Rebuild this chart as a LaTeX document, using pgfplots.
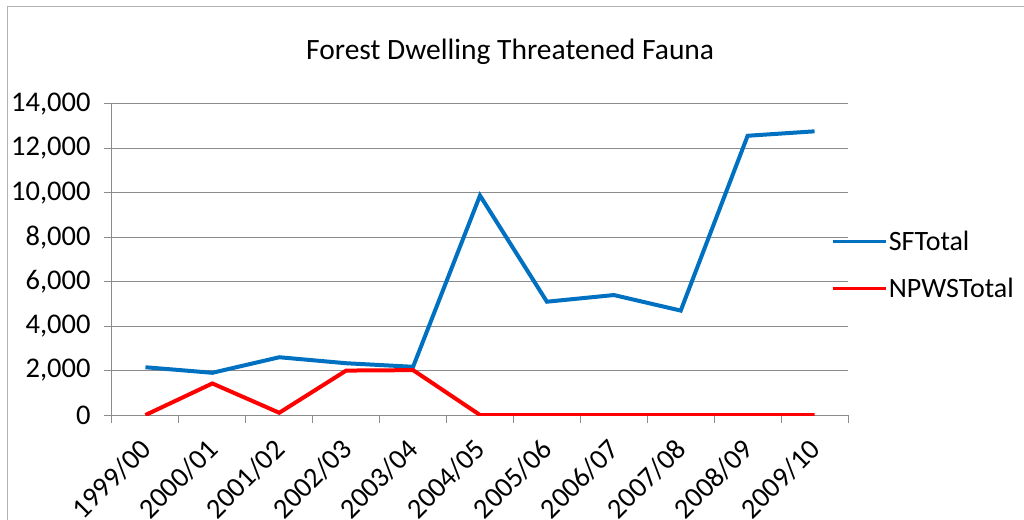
\documentclass[border=0pt]{standalone}
\usepackage{fontspec}
\setmainfont{Carlito}
\usepackage{pgfplots}
\pgfplotsset{compat=1.18}
\definecolor{sfblue}{HTML}{0070C0}
\definecolor{npred}{HTML}{FF0000}
\definecolor{gridgray}{HTML}{8C8C8C}
\begin{document}
\begin{tikzpicture}
\useasboundingbox (-112bp,-105bp) rectangle (912bp,415bp);
\draw[color=gray!60, line width=1bp] (-104bp,408bp) rectangle (940bp,-130bp);
\begin{axis}[
  at={(0,0)}, anchor=south west,
  scale only axis, width=736bp, height=311bp,
  xmin=-0.5, xmax=10.5, ymin=0, ymax=14000,
  axis lines*=left,
  axis line style={gridgray, line width=1bp},
  ytick={0,2000,...,14000},
  scaled y ticks=false,
  ymajorgrids, grid style={gridgray, line width=1bp},
  xtick={-0.5,0.5,...,10.5}, xticklabels={},
  extra x ticks={0,1,2,3,4,5,6,7,8,9,10},
  extra x tick labels={1999/00,2000/01,2001/02,2002/03,2003/04,2004/05,2005/06,2006/07,2007/08,2008/09,2009/10},
  extra x tick style={major tick length=0pt, grid=none},
  tick align=outside, major tick length=8bp,
  tick style={gridgray, line width=1bp},
  /pgf/number format/assume math mode=true,
  /pgf/number format/1000 sep={,},
  yticklabel style={font=\fontsize{28.5bp}{32bp}\selectfont, text=black, xshift=-10bp},
  xticklabel style={font=\fontsize{28.5bp}{32bp}\selectfont, text=black, yshift=-27bp, xshift=3bp, rotate=45, anchor=east},
  title={Forest Dwelling Threatened Fauna},
  title style={at={(0.541,1.15)}, anchor=center, font=\fontsize{29.5bp}{34bp}\selectfont},
  legend style={at={(0.977,0.482)}, anchor=west, draw=none, fill=none,
    font=\fontsize{28bp}{32bp}\selectfont, row sep=22bp, inner sep=0pt},
  legend cell align=left,
  legend image code/.code={\draw[#1, line width=2.6bp] (0bp,0bp) -- (53bp,0bp);},
]
\addplot[sfblue, line width=4bp] coordinates {
(0,2150) (1,1900) (2,2600) (3,2330) (4,2170) (5,9880) (6,5100) (7,5400) (8,4700) (9,12570) (10,12770)};
\addlegendentry{SFTotal}
\addplot[npred, line width=4bp] coordinates {
(0,0) (1,1420) (2,100) (3,2000) (4,2020) (5,0) (6,0) (7,0) (8,0) (9,0) (10,0)};
\addlegendentry{NPWSTotal}
\end{axis}
\end{tikzpicture}
\end{document}
